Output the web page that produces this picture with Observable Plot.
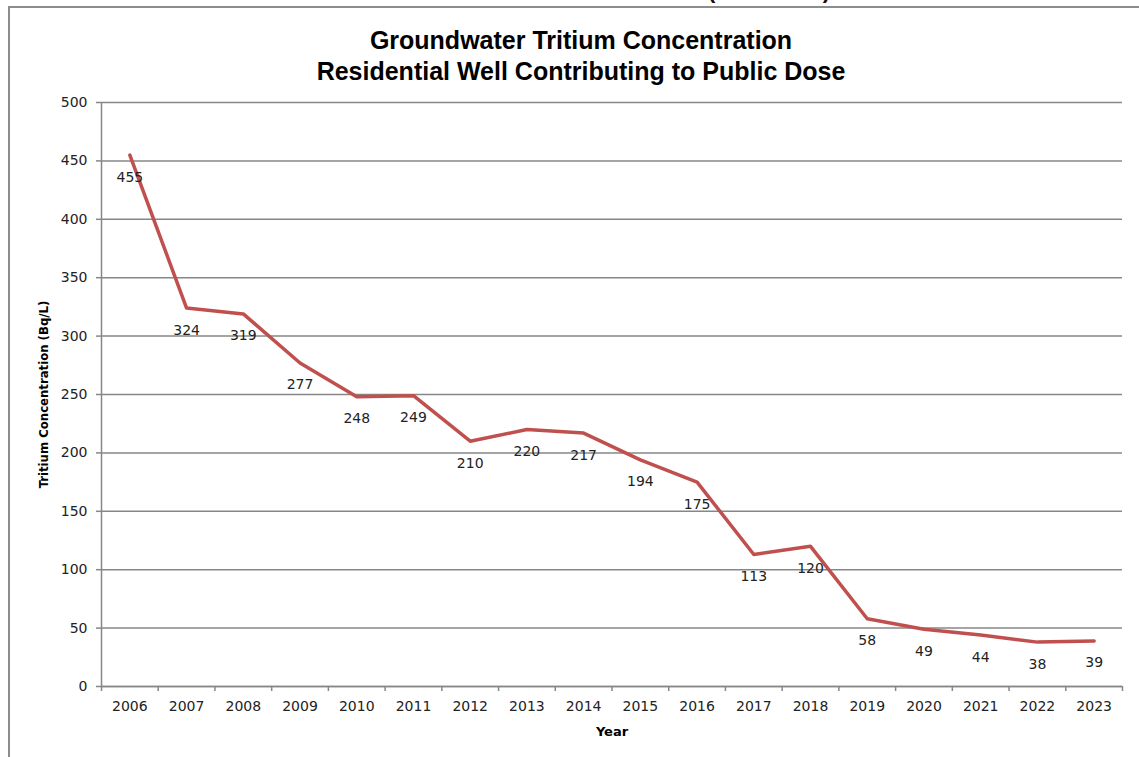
<!DOCTYPE html>
<html>
<head>
<meta charset="utf-8">
<script src="https://cdn.jsdelivr.net/npm/d3@7"></script>
<script src="https://cdn.jsdelivr.net/npm/@observablehq/plot@0.6"></script>
<style>
  html, body { margin: 0; padding: 0; background: #fff; }
  #page { position: relative; width: 1139px; height: 757px; overflow: hidden; }
  #frame { position: absolute; left: 8px; top: 6px; width: 1200px; height: 800px;
           border-left: 2px solid #8c8c8c; border-top: 2px solid #8c8c8c; }
  #cut { position: absolute; left: 708px; top: -22px; width: 122px; display: flex;
         justify-content: space-between; font: bold 22px "Liberation Sans", sans-serif; color: #111; }
  #title { position: absolute; left: 8px; width: 1146px; top: 25px; text-align: center;
           font-family: "Liberation Sans", sans-serif; font-weight: bold;
           font-size: 25px; line-height: 31px; color: #000; }
  #chart { position: absolute; left: 0; top: 90px; }
</style>
</head>
<body>
<div id="page">
  <div id="frame"></div>
  <div id="cut"><span>(</span><span>)</span></div>
  <div id="title">Groundwater Tritium Concentration<br>Residential Well Contributing to Public Dose</div>
  <div id="chart"></div>
</div>
<script>
const years = [2006, 2007, 2008, 2009, 2010, 2011, 2012, 2013, 2014, 2015, 2016, 2017, 2018, 2019, 2020, 2021, 2022, 2023];
const values = [455, 324, 319, 277, 248, 249, 210, 220, 217, 194, 175, 113, 120, 58, 49, 44, 38, 39];
const yTicks = [0, 50, 100, 150, 200, 250, 300, 350, 400, 450, 500];
const xLabel = "Year";
const yLabel = "Tritium Concentration (Bq/L)";

const data = years.map((y, i) => ({year: y, value: values[i]}));
const bounds = d3.range(years.length + 1).map(i => years[0] - 0.5 + i);

const font = "DejaVu Sans, Verdana, sans-serif";
const plot = Plot.plot({
  width: 1139,
  height: 667,
  marginTop: 12,
  marginBottom: 71,
  marginLeft: 101,
  marginRight: 17,
  style: {fontFamily: font, fontSize: "14px", color: "#222", background: "transparent"},
  x: {type: "linear", domain: [bounds[0], bounds[bounds.length - 1]]},
  y: {domain: [0, 500]},
  marks: [
    Plot.gridY(yTicks, {stroke: "#878787", strokeOpacity: 1, strokeWidth: 1.5}),
    Plot.ruleY([0], {stroke: "#878787", strokeWidth: 1.5}),
    Plot.ruleX([bounds[0]], {stroke: "#878787", strokeWidth: 1.5}),
    Plot.axisY({ticks: yTicks, tickSize: 5, tickPadding: 9, stroke: "#878787", strokeWidth: 1.5, label: null, fontSize: 14, fill: "#222"}),
    Plot.axisX({ticks: bounds, tickSize: 5, tickFormat: () => "", stroke: "#878787", strokeWidth: 1.5, label: null}),
    Plot.axisX({ticks: years, tickSize: 0, tickPadding: 15, tickFormat: d => String(d), label: null, fontSize: 14, fill: "#222"}),
    Plot.line(data, {x: "year", y: "value", stroke: "#C0504D", strokeWidth: 3.5, strokeLinejoin: "round"}),
    Plot.text(data, {x: "year", y: "value", text: d => String(d.value), dy: 22, fontSize: 14, fill: "#222"}),
    Plot.text([xLabel], {text: d => d, frameAnchor: "bottom", lineAnchor: "middle", dy: 45, fontWeight: "bold", fontSize: 13, fill: "#000"}),
    Plot.text([yLabel], {text: d => d, frameAnchor: "left", textAnchor: "middle", lineAnchor: "middle", dx: -58, rotate: -90, fontWeight: "bold", fontSize: 13, fill: "#000", fontFamily: "DejaVu Sans Condensed, DejaVu Sans, sans-serif"})
  ]
});
document.getElementById("chart").appendChild(plot);
</script>
</body>
</html>
